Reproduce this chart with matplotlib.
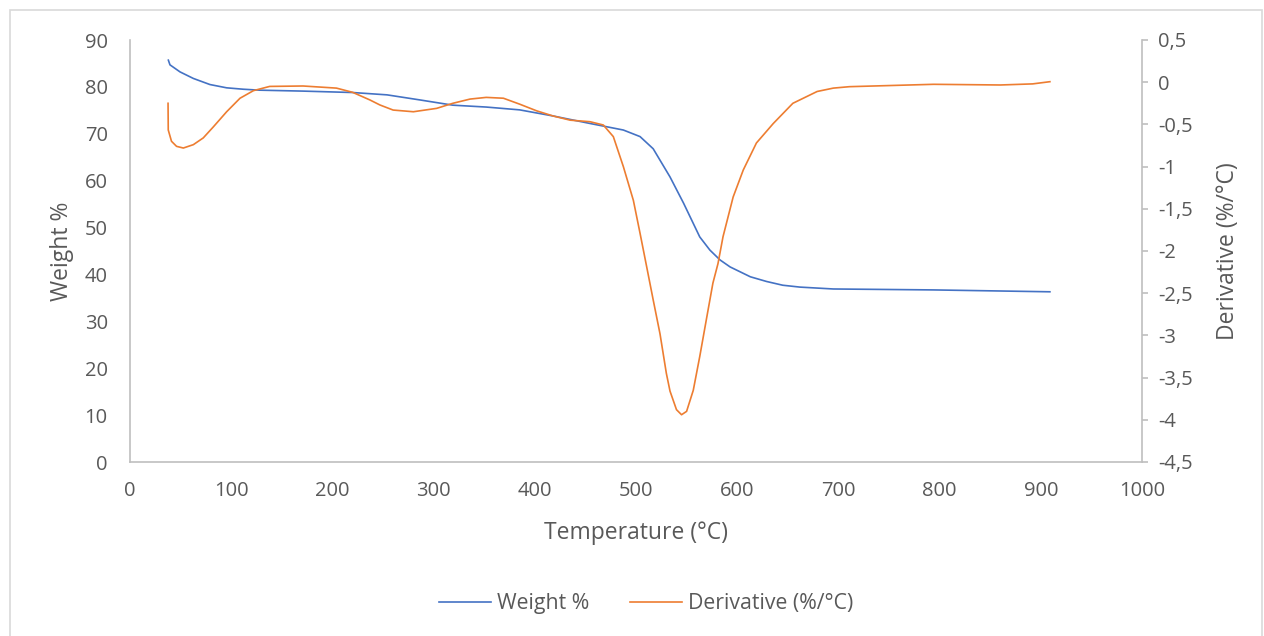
import matplotlib
matplotlib.use("Agg")
import matplotlib.pyplot as plt
from matplotlib.ticker import FuncFormatter, MultipleLocator
from matplotlib.patches import Rectangle

plt.rcParams['font.family'] = ['Open Sans', 'DejaVu Sans']

# weight loss curve (TGA)
temp_w = [37.9, 39.5, 49.4, 62.6, 79, 95.5, 112, 128, 171, 220, 254, 287, 319, 352, 385,
          418, 454.5, 487.5, 504, 517, 533.6, 547, 563, 573, 583, 593, 613, 629, 645, 662,
          695, 794, 909]
weight = [85.7, 84.7, 83.2, 81.8, 80.5, 79.8, 79.5, 79.3, 79.1, 78.8, 78.3, 77.2, 76.1, 75.7, 75.1,
          73.8, 72.2, 70.8, 69.4, 66.8, 60.8, 55.2, 48.0, 45.2, 43.1, 41.6, 39.5, 38.5, 37.7, 37.3,
          36.9, 36.7, 36.3]

# derivative curve (DTG)
temp_d = [37.6, 37.8, 41, 46, 52.7, 62.6, 72.4, 82.3, 95.5, 108.7, 122, 138, 171, 204, 220,
          237, 247, 260, 280, 303, 319, 336, 352, 369, 385, 402, 418, 435, 454.5, 467.7, 477.6,
          487.5, 497.4, 504, 510.6, 517, 523.7, 530, 533.6, 540, 545, 550, 556.6, 563, 570,
          576, 581, 586, 596, 606, 619, 635.6, 655, 679, 695, 711, 794, 860, 892, 909]
deriv = [-0.25, -0.566, -0.70, -0.76, -0.78, -0.74, -0.66, -0.53, -0.35, -0.19, -0.10, -0.05, -0.045, -0.07, -0.12,
         -0.21, -0.27, -0.33, -0.35, -0.31, -0.25, -0.20, -0.18, -0.19, -0.26, -0.34, -0.40, -0.45, -0.468, -0.507, -0.645,
         -1.0, -1.40, -1.79, -2.19, -2.58, -2.98, -3.45, -3.66, -3.88, -3.94, -3.90, -3.65, -3.25, -2.78,
         -2.38, -2.15, -1.83, -1.36, -1.04, -0.72, -0.49, -0.25, -0.11, -0.07, -0.053, -0.025, -0.033, -0.02, 0.006]

blue = '#4472C4'
orange = '#ED7D31'
txt = '#595959'
border = '#D9D9D9'

fig = plt.figure(figsize=(12.64, 6.36), dpi=100)
fig.patches.append(Rectangle((10 / 1264, -0.01), 1252 / 1264, 1 - 10 / 636 + 0.01,
                             transform=fig.transFigure, fill=False,
                             edgecolor=border, linewidth=1.2))
ax = fig.add_axes([130 / 1264, 1 - 462 / 636, 1012 / 1264, 422 / 636])
ax2 = ax.twinx()

l1, = ax.plot(temp_w, weight, color=blue, linewidth=1.2, label='Weight %')
l2, = ax2.plot(temp_d, deriv, color=orange, linewidth=1.2, label='Derivative (%/°C)')

ax.set_xlim(0, 1000)
ax.set_ylim(0, 90)
ax2.set_ylim(-4.5, 0.5)
ax.xaxis.set_major_locator(MultipleLocator(100))
ax.yaxis.set_major_locator(MultipleLocator(10))
ax2.yaxis.set_major_locator(MultipleLocator(0.5))
ax2.yaxis.set_major_formatter(FuncFormatter(
    lambda v, p: ('%g' % round(v, 1)).replace('.', ',')))

for a in (ax, ax2):
    for s in a.spines.values():
        s.set_visible(False)
    a.tick_params(length=0, labelsize=14.5, labelcolor=txt)
ax.spines['left'].set_visible(True)
ax.spines['bottom'].set_visible(True)
ax2.spines['right'].set_visible(True)
for s in (ax.spines['left'], ax.spines['bottom'], ax2.spines['right']):
    s.set_color('#BFBFBF')
    s.set_linewidth(1.2)
ax.tick_params(axis='y', pad=16)
ax.tick_params(axis='x', pad=14)
ax2.tick_params(axis='y', length=4.5, width=1.2, color='#BFBFBF', pad=7)

ax.set_xlabel('Temperature (°C)', fontsize=16.5, color=txt, va='center')
ax.set_ylabel('Weight %', fontsize=16.5, color=txt, va='center')
ax2.set_ylabel('Derivative (%/°C)', fontsize=16.5, color=txt, va='center', rotation=90)
ax.xaxis.set_label_coords(0.5, (462 - 533) / 422)
ax.yaxis.set_label_coords((62 - 130) / 1012, 0.5)
ax2.yaxis.set_label_coords((1228 - 130) / 1012, 0.5)

fig.legend(handles=[l1, l2], loc='center', bbox_to_anchor=(646 / 1264, 1 - 604 / 636),
           ncol=2, frameon=False, fontsize=15.3, labelcolor=txt,
           handlelength=2.45, columnspacing=1.9, handletextpad=0.3)

fig.savefig('out.png', dpi=100)
